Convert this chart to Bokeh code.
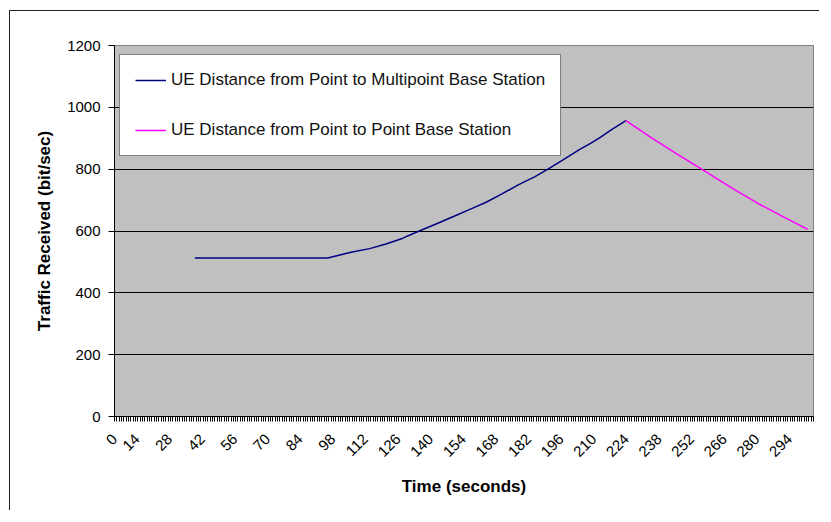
import math
from bokeh.plotting import figure
from bokeh.models import (Range1d, FixedTicker, Legend, LegendItem, InlineStyleSheet,
                          LinearAxis)
from bokeh.embed import file_html
from bokeh.resources import INLINE

# ---- data ----
x_tick_labels = [0, 14, 28, 42, 56, 70, 84, 98, 112, 126, 140, 154, 168, 182,
                 196, 210, 224, 238, 252, 266, 280, 294]
n_categories = 300
y_ticks = [0, 200, 400, 600, 800, 1000, 1200]

multipoint_time = [34, 91, 101, 109, 116, 123, 129, 137, 145, 152, 159, 166,
                   173, 180, 185, 192, 199, 204, 208, 213, 219]
multipoint_traffic = [513, 513, 531, 543, 558, 576, 596, 621, 647, 670, 693, 721,
                      750, 776, 798, 830, 863, 884, 903, 929, 957]

p2p_time = [219, 230, 241, 252, 264, 276, 287, 297]
p2p_traffic = [957, 901, 849, 798, 741, 688, 644, 605]

series_names = ["UE Distance from Point to Multipoint Base Station",
                "UE Distance from Point to Point Base Station"]

FONT = "Liberation Sans"
LABEL_SHIFT = -4.8  # Excel draws rotated category labels slightly left of the category centre
X_START = -0.5
X_END = n_categories - 0.5

frame_css = InlineStyleSheet(css="""
:host::after {
  content: "";
  position: absolute;
  left: 6px;
  top: 7px;
  width: calc(100% - 6px);
  height: calc(100% - 7px);
  border-left: 1.5px solid #222;
  border-top: 1.5px solid #222;
  pointer-events: none;
  z-index: 10;
  box-sizing: border-box;
}
""")

p = figure(width=817, height=508, output_backend="svg", toolbar_location=None,
           x_range=Range1d(X_START, X_END), y_range=Range1d(0, 1200),
           min_border_left=111, min_border_right=7, min_border_top=42,
           min_border_bottom=95)
p.margin = (2, 0, 0, 2)
p.styles = {"border-left": "1px solid white", "border-top": "1px solid white",
            "position": "relative"}
p.stylesheets = [frame_css]

p.background_fill_color = "#C0C0C0"
p.border_fill_color = "white"
p.outline_line_color = "#808080"
p.outline_line_width = 1

r1 = p.line(multipoint_time, multipoint_traffic, line_color="#000080", line_width=1.5)
r2 = p.line(p2p_time, p2p_traffic, line_color="#FF00FF", line_width=1.5)

# x axis: line + one tick mark per category boundary
xa = p.xaxis[0]
xa.ticker = FixedTicker(ticks=[], minor_ticks=[i - 0.5 for i in range(n_categories + 1)])
xa.major_tick_line_color = None
xa.major_tick_out = 0
xa.major_tick_in = 0
xa.minor_tick_out = 5
xa.minor_tick_in = 0
xa.minor_tick_line_color = "black"
xa.axis_line_color = "black"
xa.axis_line_width = 1
xa.major_label_standoff = 0
xa.major_label_text_font_size = "1px"

# x axis: rotated category labels + title
label_pos = [max(t + LABEL_SHIFT, X_START) for t in x_tick_labels]
xl = LinearAxis()
xl.ticker = FixedTicker(ticks=label_pos, minor_ticks=[])
xl.major_label_overrides = {pos: str(t) for pos, t in zip(label_pos, x_tick_labels)}
xl.major_label_orientation = math.pi / 4
xl.axis_line_color = None
xl.major_tick_line_color = None
xl.minor_tick_line_color = None
xl.major_tick_out = 0
xl.major_tick_in = 0
xl.minor_tick_out = 0
xl.minor_tick_in = 0
xl.major_label_text_font = FONT
xl.major_label_text_font_size = "15px"
xl.major_label_text_color = "black"
xl.major_label_standoff = 15
xl.axis_label = "Time (seconds)"
xl.axis_label_text_font = FONT
xl.axis_label_text_font_size = "17px"
xl.axis_label_text_font_style = "bold"
xl.axis_label_text_color = "black"
xl.axis_label_standoff = 13
p.add_layout(xl, "below")

# y axis
p.yaxis.ticker = FixedTicker(ticks=y_ticks)
p.yaxis.minor_tick_line_color = None
p.yaxis.major_tick_out = 6
p.yaxis.major_tick_in = 0
p.yaxis.major_tick_line_color = "black"
p.yaxis.axis_line_color = "black"
p.yaxis.major_label_text_font = FONT
p.yaxis.major_label_text_font_size = "15px"
p.yaxis.major_label_text_color = "black"
p.yaxis.major_label_standoff = 8
p.yaxis.axis_label = "Traffic Received (bit/sec)"
p.yaxis.axis_label_text_font = FONT
p.yaxis.axis_label_text_font_size = "17px"
p.yaxis.axis_label_text_font_style = "bold"
p.yaxis.axis_label_text_color = "black"
p.yaxis.axis_label_standoff = 10

# grid
p.xgrid.visible = False
p.ygrid.ticker = FixedTicker(ticks=y_ticks[1:-1])
p.ygrid.grid_line_color = "black"
p.ygrid.grid_line_width = 1

legend = Legend(items=[LegendItem(label=series_names[0], renderers=[r1]),
                       LegendItem(label=series_names[1], renderers=[r2])],
                location=(5, 371 - 11 - 100))
legend.border_line_color = "black"
legend.border_line_width = 1.5
legend.background_fill_color = "white"
legend.background_fill_alpha = 1
legend.label_text_font = FONT
legend.label_text_font_size = "17px"
legend.label_text_color = "#111111"
legend.glyph_width = 31
legend.glyph_height = 20
legend.label_height = 20
legend.label_standoff = 5
legend.padding = 15
legend.spacing = 30
legend.margin = 0
p.add_layout(legend)

open("out.html", "w").write(file_html(p, INLINE))
